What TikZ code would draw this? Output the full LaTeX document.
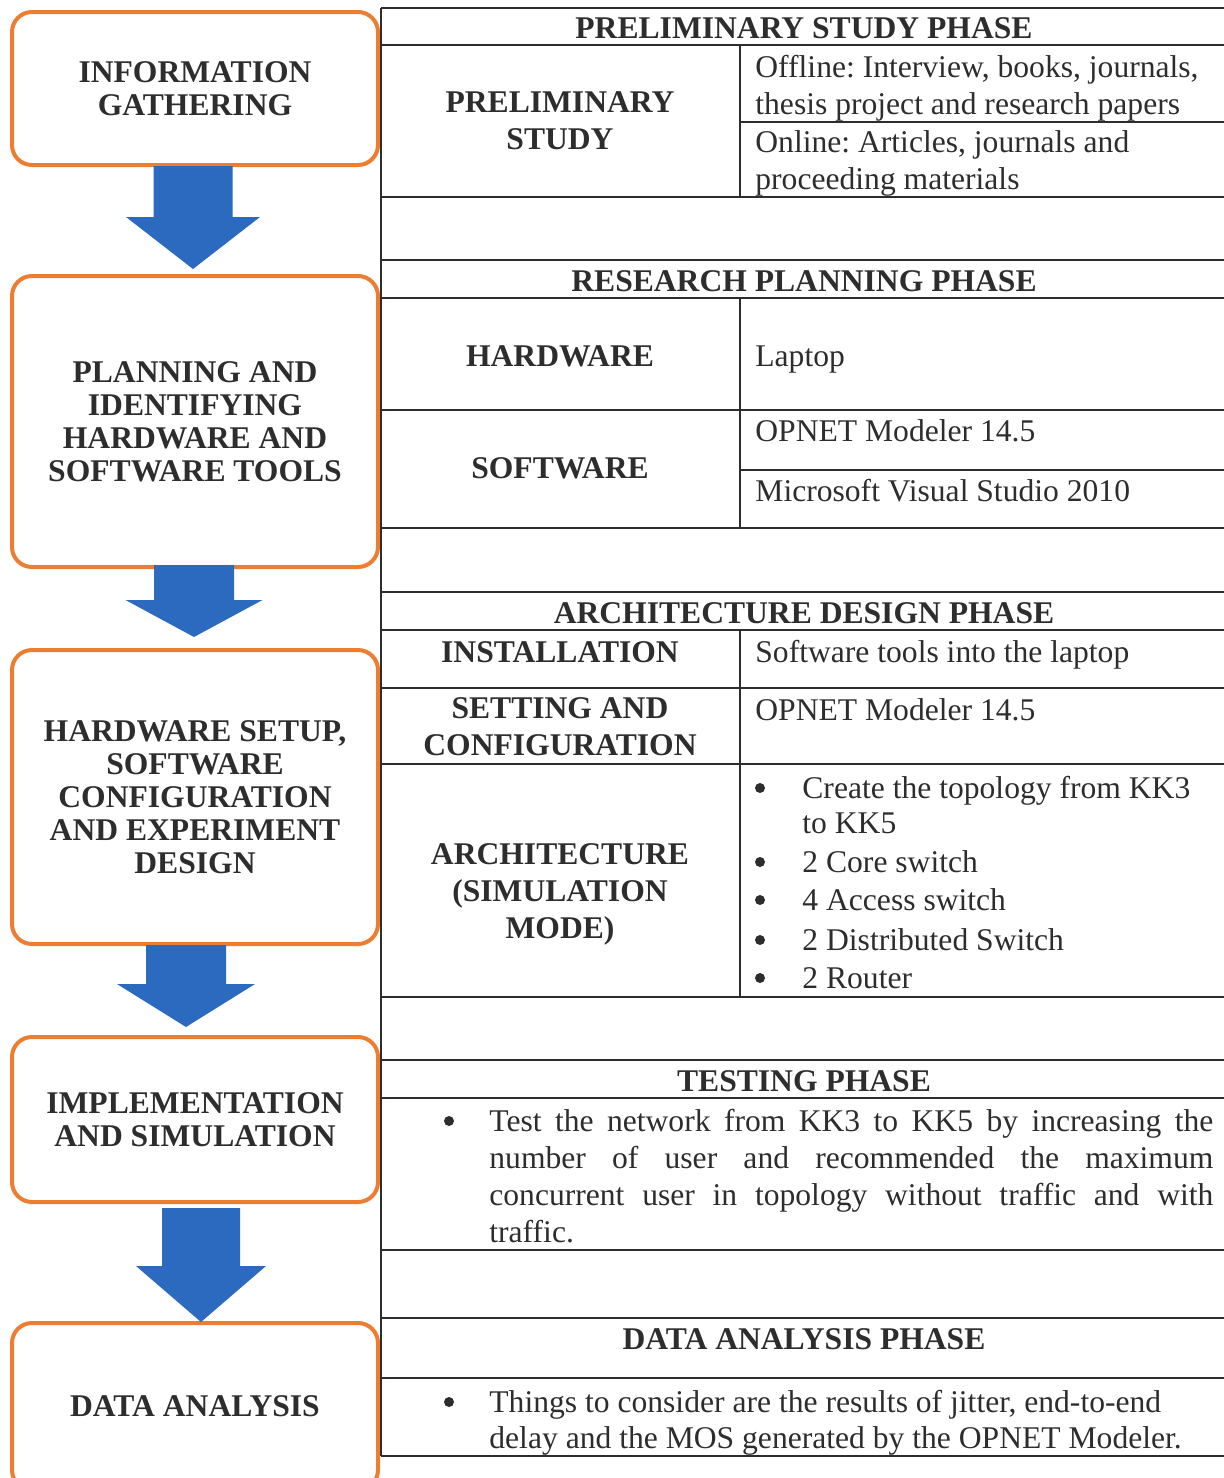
\documentclass[tikz,border=0pt]{standalone}
\usepackage{fontspec}
\setmainfont{Liberation Serif}
\frenchspacing
\definecolor{boxorange}{RGB}{237,125,49}
\definecolor{arrowblue}{RGB}{44,106,192}
\definecolor{inkgray}{RGB}{45,45,45}
\tikzset{
  stagebox/.style={draw=boxorange, line width=2pt, rounded corners=10pt,
    minimum width=183pt, inner sep=0pt, align=center, text=inkgray,
    font=\bfseries\fontsize{15.8}{16.5}\selectfont},
  headtext/.style={text=inkgray, inner sep=0pt, align=center,
    font=\bfseries\fontsize{15.8}{18.5}\selectfont},
  celltext/.style={text=inkgray, inner sep=0pt, anchor=base west,
    font=\fontsize{15.8}{18.5}\selectfont},
  rule/.style={draw=inkgray, line width=1pt},
}
% block arrow: x, shaft top, head top, tip, half shaft, half head
\newcommand{\blockdown}[6]{%
  \fill[arrowblue] (#1-#5,#2) -- (#1+#5,#2) -- (#1+#5,#3) -- (#1+#6,#3)
    -- (#1,#4) -- (#1-#6,#3) -- (#1-#5,#3) -- cycle;}
\begin{document}
\begin{tikzpicture}[x=0.5pt,y=-0.5pt]
  \useasboundingbox (0,0) rectangle (1224,1478);
  \clip (0,0) rectangle (1224,1478);
  % stages on the left
  \node[stagebox, minimum height=76.5pt] (gather) at (195,88.5)
    {INFORMATION\\GATHERING};
  \node[stagebox, minimum height=145.5pt] (plan) at (195,421.5)
    {PLANNING AND\\IDENTIFYING\\HARDWARE AND\\SOFTWARE TOOLS};
  \node[stagebox, minimum height=147pt] (setup) at (195,797)
    {HARDWARE SETUP,\\SOFTWARE\\CONFIGURATION\\AND EXPERIMENT\\DESIGN};
  \node[stagebox, minimum height=82.5pt] (implement) at (195,1119.5)
    {IMPLEMENTATION\\AND SIMULATION};
  \node[stagebox, minimum height=83.5pt] (analysis) at (195,1406.5)
    {DATA ANALYSIS};
  \blockdown{193}{166}{217}{269}{39.5}{67}
  \blockdown{194}{565}{600}{637}{40}{68.5}
  \blockdown{186}{945}{984}{1027}{40}{69}
  \blockdown{201}{1208}{1266}{1322}{39}{65}

  % table rules
  \foreach \y in {8,45,197,260,298,410,528,592,630,688,764,997,
                  1060,1098,1250,1318,1378,1456}
    \draw[rule] (381,\y) -- (1230,\y);
  \foreach \y in {122,470}
    \draw[rule] (740,\y) -- (1230,\y);
  \draw[rule] (381,8) -- (381,1456);
  \foreach \a/\b in {45/197, 298/528, 630/997}
    \draw[rule] (740,\a) -- (740,\b);

  % phase headings
  \foreach \yb/\lab [count=\i] in {38/PRELIMINARY STUDY PHASE,
      291/RESEARCH PLANNING PHASE, 623/ARCHITECTURE DESIGN PHASE,
      1091/TESTING PHASE, 1349/DATA ANALYSIS PHASE}
    \node[headtext, anchor=base] (phase\i) at (804,\yb) {\lab};

  % left column cells
  \node[headtext] (prelim) at (560,121) {PRELIMINARY\\STUDY};
  \node[headtext, anchor=base] (hardware) at (560,366) {HARDWARE};
  \node[headtext, anchor=base] (software) at (560,478) {SOFTWARE};
  \node[headtext, anchor=base] (install) at (560,662) {INSTALLATION};
  \node[headtext] (config) at (560,727) {SETTING AND\\CONFIGURATION};
  \node[headtext] (archi) at (560,894) {ARCHITECTURE\\(SIMULATION\\MODE)};

  % right column cells
  \foreach \yb/\txt [count=\i] in {77/{Offline: Interview, books, journals,},
      114/thesis project and research papers,
      152/{Online: Articles, journals and}, 189/proceeding materials,
      366/Laptop, 441/OPNET Modeler 14.5, 501/Microsoft Visual Studio 2010,
      662/Software tools into the laptop, 720/OPNET Modeler 14.5}
    \node[celltext] (cell\i) at (755,\yb) {\txt};

  % bullet lists
  \foreach \yb/\txt [count=\i] in {798/Create the topology from KK3, 833/to KK5,
      872/2 Core switch, 910/4 Access switch, 950/2 Distributed Switch,
      988/2 Router}
    \node[celltext] (item\i) at (802,\yb) {\txt};
  \foreach \yb in {798,872,910,950,988}
    \fill[inkgray] (760,\yb-10) circle (2.5pt);

  \node[celltext] (test1) at (489,1131)
    {\makebox[362pt][s]{Test the network from KK3 to KK5 by increasing the}};
  \node[celltext] (test2) at (489,1168)
    {\makebox[362pt][s]{number of user and recommended the maximum}};
  \node[celltext] (test3) at (489,1205)
    {\makebox[362pt][s]{concurrent user in topology without traffic and with}};
  \node[celltext] (test4) at (489,1242) {traffic.};
  \fill[inkgray] (449,1121) circle (2.5pt);

  \node[celltext] (data1) at (489,1412)
    {Things to consider are the results of jitter, end-to-end};
  \node[celltext] (data2) at (489,1448)
    {delay and the MOS generated by the OPNET Modeler.};
  \fill[inkgray] (449,1402) circle (2.5pt);
\end{tikzpicture}
\end{document}
